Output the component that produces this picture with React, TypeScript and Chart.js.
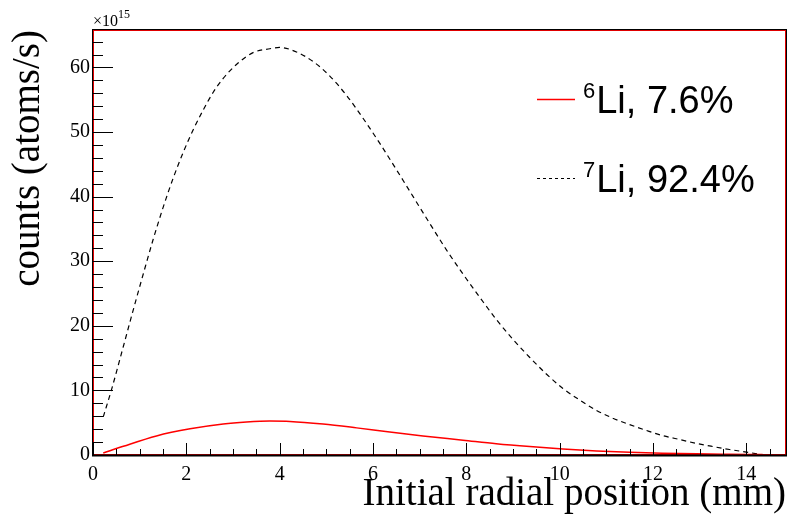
import React, { useEffect, useRef } from 'react';
import { Chart, registerables } from 'chart.js';

Chart.register(...registerables);

// ---- data (x in mm, y in 1e15 atoms/s) ----
const li7X = [0.22, 0.40, 0.65, 0.86, 1.08, 1.29, 1.51, 1.72, 1.93, 2.15, 2.36, 2.58, 2.79, 3.08, 3.43, 3.79, 4.0, 4.36, 4.72, 5.07, 5.43, 5.79, 6.15, 6.50, 6.86, 7.22, 7.57, 7.93, 8.29, 8.64, 9.0, 9.36, 9.72, 10.07, 10.43, 10.79, 11.14, 11.5, 11.86, 12.21, 12.57, 12.93, 13.29, 13.64, 14.0, 14.3];
const li7Y = [5.9, 10.2, 16.8, 22.4, 28.1, 33.4, 38.5, 42.9, 46.8, 50.4, 53.4, 56.2, 58.3, 60.5, 62.3, 62.9, 63.1, 62.4, 60.9, 58.7, 55.7, 52.1, 48.2, 44.2, 40.0, 35.8, 31.8, 28.0, 24.4, 21.0, 17.9, 15.1, 12.5, 10.3, 8.5, 6.9, 5.7, 4.7, 3.8, 3.0, 2.4, 1.8, 1.3, 0.85, 0.45, 0.1];

const li6X = [0.22, 0.65, 1.36, 2.08, 2.79, 3.29, 3.79, 4.22, 4.93, 5.65, 6.36, 7.07, 7.93, 8.64, 9.36, 10.07, 10.79, 11.5, 12.2, 12.93, 13.64, 14.35];
const li6Y = [0.3, 1.35, 2.95, 4.05, 4.8, 5.1, 5.25, 5.2, 4.8, 4.2, 3.55, 2.95, 2.3, 1.75, 1.3, 0.92, 0.62, 0.42, 0.28, 0.18, 0.12, 0.07];

const massNumbers = ['6', '7'];
const legendTexts = ['Li, 7.6%', 'Li, 92.4%'];
const seriesColors = ['#ff0000', '#000000'];
const xTitle = 'Initial radial position (mm)';
const yTitle = 'counts (atoms/s)';
const yExponent = '15';

const X_MIN = 0;
const X_MAX = 14.85;
const Y_MIN = 0;
const Y_MAX = 65.8;
const X_STEP = 0.5;
const X_LABEL_STEP = 2;
const Y_STEP = 2;
const Y_LABEL_STEP = 10;

const SERIF = '"Liberation Serif", "Times New Roman", serif';
const SANS = '"Liberation Sans", Arial, sans-serif';

const isMultiple = (v: number, step: number) => Math.abs(v / step - Math.round(v / step)) < 1e-6;

const rootFramePlugin = {
  id: 'rootFrame',
  afterDraw(chart: any) {
    const { ctx, chartArea: a, scales } = chart;
    ctx.save();
    // frame: black outer, red inner
    ctx.lineWidth = 1;
    ctx.strokeStyle = '#000';
    ctx.strokeRect(a.left - 0.5, a.top - 0.5, a.right - a.left + 1, a.bottom - a.top + 1);
    ctx.strokeStyle = '#e00000';
    ctx.strokeRect(a.left + 0.5, a.top + 0.5, a.right - a.left - 1, a.bottom - a.top - 1);
    // axis lines (left and bottom) black
    ctx.strokeStyle = '#000';
    ctx.lineWidth = 2;
    ctx.beginPath();
    ctx.moveTo(a.left - 1, a.bottom + 0.5);
    ctx.lineTo(a.right + 1, a.bottom + 0.5);
    ctx.stroke();
    ctx.lineWidth = 1;
    ctx.beginPath();
    ctx.moveTo(a.left - 0.5, a.top);
    ctx.lineTo(a.left - 0.5, a.bottom);
    ctx.stroke();

    // inward ticks
    const xs = scales.x;
    xs.ticks.forEach((t: any) => {
      if (!isMultiple(t.value, X_STEP)) return;
      const px = Math.round(xs.getPixelForValue(t.value)) + 0.5;
      const len = isMultiple(t.value, X_LABEL_STEP) ? 12 : 6;
      ctx.beginPath();
      ctx.moveTo(px, a.bottom);
      ctx.lineTo(px, a.bottom - len);
      ctx.stroke();
    });
    const ys = scales.y;
    ys.ticks.forEach((t: any) => {
      if (!isMultiple(t.value, Y_STEP)) return;
      const py = Math.round(ys.getPixelForValue(t.value)) + 0.5;
      const len = isMultiple(t.value, Y_LABEL_STEP) ? 20 : 10;
      ctx.beginPath();
      ctx.moveTo(a.left, py);
      ctx.lineTo(a.left + len, py);
      ctx.stroke();
    });

    // exponent label ×10^15
    ctx.fillStyle = '#000';
    ctx.textBaseline = 'alphabetic';
    ctx.textAlign = 'left';
    ctx.font = `16px ${SERIF}`;
    const base = '\u00d710';
    ctx.fillText(base, a.left, a.top - 4);
    const bw = ctx.measureText(base).width;
    ctx.font = `12px ${SERIF}`;
    ctx.fillText(yExponent, a.left + bw, a.top - 12);
    ctx.restore();
  },
};

const rootLegendPlugin = {
  id: 'rootLegend',
  afterDraw(chart: any) {
    const { ctx, chartArea: a } = chart;
    ctx.save();
    const rows = [a.top + 69, a.top + 148];
    chart.data.datasets.forEach((ds: any, i: number) => {
      const y = rows[i];
      const x0 = a.left + 444;
      const x1 = a.left + 482;
      ctx.strokeStyle = seriesColors[i];
      ctx.lineWidth = i === 0 ? 1.3 : 1;
      ctx.setLineDash(i === 0 ? [] : [3, 3]);
      ctx.beginPath();
      ctx.moveTo(x0, y + 0.5);
      ctx.lineTo(x1, y + 0.5);
      ctx.stroke();
      ctx.setLineDash([]);
      ctx.fillStyle = '#000';
      ctx.textAlign = 'left';
      ctx.textBaseline = 'alphabetic';
      const baseline = y + 14;
      const sx = x1 + 8;
      ctx.font = `22px ${SANS}`;
      ctx.fillText(massNumbers[i], sx, baseline - 15.5);
      const sw = ctx.measureText(massNumbers[i]).width;
      ctx.font = `38px ${SANS}`;
      ctx.fillText(legendTexts[i], sx + sw + 1, baseline);
    });
    ctx.restore();
  },
};

export default function App() {
  const canvasRef = useRef<HTMLCanvasElement | null>(null);

  useEffect(() => {
    const canvas = canvasRef.current;
    if (!canvas) return;
    const chart = new Chart(canvas, {
      type: 'line',
      data: {
        datasets: [
          {
            label: `${massNumbers[0]}${legendTexts[0]}`,
            data: li6X.map((x, i) => ({ x, y: li6Y[i] })),
            borderColor: seriesColors[0],
            borderWidth: 1.5,
            pointRadius: 0,
            fill: false,
            cubicInterpolationMode: 'monotone',
          },
          {
            label: `${massNumbers[1]}${legendTexts[1]}`,
            data: li7X.map((x, i) => ({ x, y: li7Y[i] })),
            borderColor: seriesColors[1],
            borderWidth: 1.2,
            borderDash: [5, 4],
            pointRadius: 0,
            fill: false,
            cubicInterpolationMode: 'monotone',
          },
        ],
      },
      options: {
        animation: false,
        responsive: false,
        devicePixelRatio: 1,
        layout: { padding: { top: 30, right: 6, left: 0, bottom: 0 } },
        plugins: {
          legend: { display: false },
          tooltip: { enabled: false },
        },
        scales: {
          x: {
            type: 'linear',
            min: X_MIN,
            max: X_MAX,
            grid: { display: false, drawTicks: false },
            border: { display: false },
            ticks: {
              stepSize: X_STEP,
              autoSkip: false,
              includeBounds: false,
              maxRotation: 0,
              padding: 8,
              color: '#000',
              font: { family: SERIF, size: 20 },
              callback: (v: any) => (isMultiple(Number(v), X_LABEL_STEP) ? String(Math.round(Number(v))) : ''),
            },
            title: {
              display: true,
              text: xTitle,
              align: 'end',
              color: '#000',
              font: { family: SERIF, size: 39, lineHeight: 1.2 },
              padding: { top: 0, bottom: 1 },
            },
            afterFit: (s: any) => {
              s.height = 64;
            },
          },
          y: {
            type: 'linear',
            min: Y_MIN,
            max: Y_MAX,
            grid: { display: false, drawTicks: false },
            border: { display: false },
            ticks: {
              stepSize: Y_STEP,
              autoSkip: false,
              includeBounds: false,
              padding: 3,
              color: '#000',
              font: { family: SERIF, size: 20 },
              callback: (v: any) => (isMultiple(Number(v), Y_LABEL_STEP) ? String(Math.round(Number(v))) : ''),
            },
            title: {
              display: true,
              text: yTitle,
              align: 'end',
              color: '#000',
              font: { family: SERIF, size: 39, lineHeight: 1.2 },
              padding: { top: 5, bottom: 0 },
            },
            afterFit: (s: any) => {
              s.width = 93;
            },
          },
        },
      } as any,
      plugins: [rootFramePlugin, rootLegendPlugin],
    });
    return () => chart.destroy();
  }, []);

  return (
    <div style={{ position: 'fixed', left: 0, top: 0, width: 792, height: 519, background: '#fff' }}>
      <canvas ref={canvasRef} width={792} height={519} style={{ width: 792, height: 519, display: 'block' }} />
    </div>
  );
}
